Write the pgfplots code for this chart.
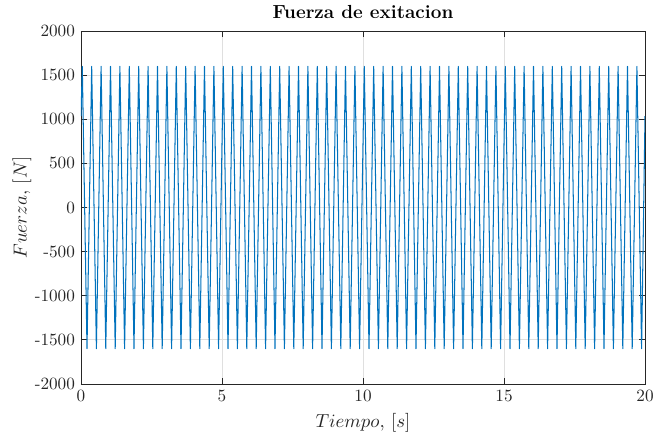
\documentclass[border=0pt]{standalone}
\usepackage{pgfplots}
\pgfplotsset{compat=1.18}
\definecolor{mblue}{rgb}{0,0.447,0.741}
\definecolor{axgray}{rgb}{0.15,0.15,0.15}
\begin{document}
\begin{tikzpicture}
\useasboundingbox (-47.09pt,-30.81pt) rectangle (341.27pt,223.26pt);
\begin{axis}[
  at={(0,0)}, anchor=south west,
  scale only axis,
  width=327.9pt, height=205.2pt,
  xmin=0, xmax=20, ymin=-2000, ymax=2000,
  xtick={0,5,10,15,20},
  ytick={-2000,-1500,-1000,-500,0,500,1000,1500,2000},
  yticklabels={-2000,-1500,-1000,-500,0,500,1000,1500,2000},
  xticklabels={0,5,10,15,20},
  tick align=inside,
  major tick length=3.3pt,
  xtick pos=both, ytick pos=both,
  axis line style={axgray, line width=0.5pt},
  tick style={axgray, line width=0.5pt},
  grid=major,
  major grid style={gray!25, line width=0.5pt},
  ticklabel style={font=\fontsize{10}{12}\selectfont, text=axgray},
  every axis title shift=0pt,
  title={\textbf{Fuerza de exitacion}},
  title style={font=\fontsize{11}{13}\selectfont, at={(axis description cs:0.5,1.037)}, anchor=base},
  xlabel={$Tiempo,\,[s]$},
  ylabel={$Fuerza,\,[N]$},
  label style={font=\fontsize{11}{13}\selectfont, text=axgray},
  xlabel style={at={(axis description cs:0.5,-0.1106)}, anchor=center},
  ylabel style={at={(axis description cs:-0.1046,0.5)}, anchor=center},
]
\addplot[mblue, line width=0.6pt, line join=round] coordinates {
(0,1035)
(0.046,1600)(0.213,-1600)(0.379,1600)(0.546,-1600)(0.713,1600)(0.879,-1600)
(1.046,1600)(1.213,-1600)(1.379,1600)(1.546,-1600)(1.713,1600)(1.879,-1600)
(2.046,1600)(2.213,-1600)(2.379,1600)(2.546,-1600)(2.713,1600)(2.879,-1600)
(3.046,1600)(3.213,-1600)(3.379,1600)(3.546,-1600)(3.713,1600)(3.879,-1600)
(4.046,1600)(4.213,-1600)(4.379,1600)(4.546,-1600)(4.713,1600)(4.879,-1600)
(5.046,1600)(5.213,-1600)(5.379,1600)(5.546,-1600)(5.713,1600)(5.879,-1600)
(6.046,1600)(6.213,-1600)(6.379,1600)(6.546,-1600)(6.713,1600)(6.879,-1600)
(7.046,1600)(7.213,-1600)(7.379,1600)(7.546,-1600)(7.713,1600)(7.879,-1600)
(8.046,1600)(8.213,-1600)(8.379,1600)(8.546,-1600)(8.713,1600)(8.879,-1600)
(9.046,1600)(9.213,-1600)(9.379,1600)(9.546,-1600)(9.713,1600)(9.879,-1600)
(10.046,1600)(10.213,-1600)(10.379,1600)(10.546,-1600)(10.713,1600)(10.879,-1600)
(11.046,1600)(11.213,-1600)(11.379,1600)(11.546,-1600)(11.713,1600)(11.879,-1600)
(12.046,1600)(12.213,-1600)(12.379,1600)(12.546,-1600)(12.713,1600)(12.879,-1600)
(13.046,1600)(13.213,-1600)(13.379,1600)(13.546,-1600)(13.713,1600)(13.879,-1600)
(14.046,1600)(14.213,-1600)(14.379,1600)(14.546,-1600)(14.713,1600)(14.879,-1600)
(15.046,1600)(15.213,-1600)(15.379,1600)(15.546,-1600)(15.713,1600)(15.879,-1600)
(16.046,1600)(16.213,-1600)(16.379,1600)(16.546,-1600)(16.713,1600)(16.879,-1600)
(17.046,1600)(17.213,-1600)(17.379,1600)(17.546,-1600)(17.713,1600)(17.879,-1600)
(18.046,1600)(18.213,-1600)(18.379,1600)(18.546,-1600)(18.713,1600)(18.879,-1600)
(19.046,1600)(19.213,-1600)(19.379,1600)(19.546,-1600)(19.713,1600)(19.879,-1600)
(20,1035)
};
\end{axis}
\end{tikzpicture}
\end{document}
